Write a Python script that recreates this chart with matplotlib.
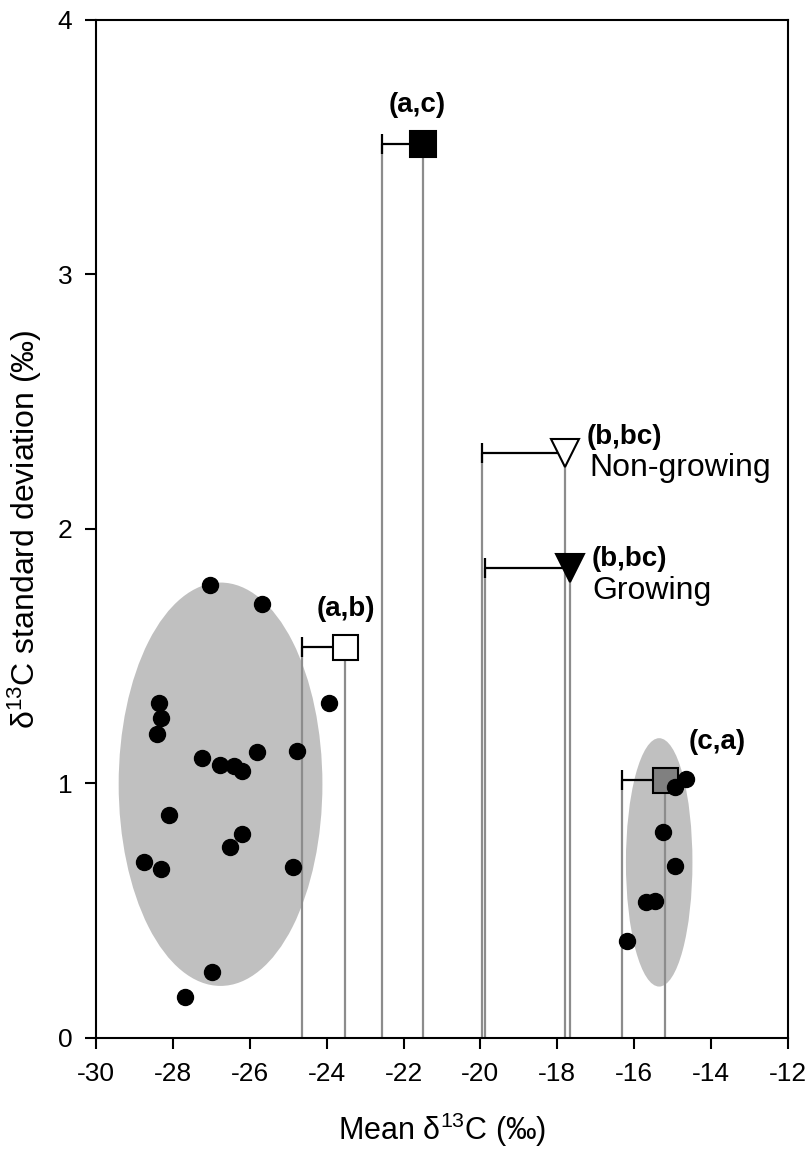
import matplotlib
matplotlib.use('Agg')
import matplotlib.pyplot as plt
from matplotlib.patches import Ellipse

plt.rcParams['font.family'] = ['Liberation Sans', 'DejaVu Sans']
plt.rcParams['mathtext.default'] = 'regular'
plt.rcParams['axes.unicode_minus'] = False

# ── data ────────────────────────────────────────────────────
# individual points, left (C3) cluster
c3_x = [-27.03, -25.69, -23.93, -28.36, -28.32, -28.42, -27.25, -26.77, -26.41,
        -26.21, -25.80, -24.78, -28.09, -26.19, -26.51, -28.75, -28.32, -24.87,
        -26.99, -27.68]
c3_y = [1.780, 1.705, 1.315, 1.317, 1.259, 1.193, 1.099, 1.073, 1.070,
        1.050, 1.125, 1.129, 0.876, 0.802, 0.749, 0.693, 0.665, 0.673,
        0.261, 0.162]

# individual points, right (C4) cluster
c4_x = [-14.65, -14.95, -15.26, -14.94, -15.69, -15.45, -16.19]
c4_y = [1.018, 0.988, 0.808, 0.677, 0.536, 0.538, 0.382]

# shaded ellipses round each cluster: centre x, centre y, width, height
ell_cx = [-26.76, -15.35]
ell_cy = [0.997, 0.690]
ell_w = [5.30, 1.73]
ell_h = [1.585, 0.976]

# group means: mean d13C, sd of d13C, left end of error bar
grp_x = [-23.52, -21.49, -17.79, -17.67, -15.21]
grp_y = [1.535, 3.512, 2.297, 1.846, 1.014]
grp_lo = [-24.63, -22.57, -19.97, -19.87, -16.32]
grp_marker = ['s', 's', 'v', 'v', 's']
grp_face = ['white', 'black', 'white', 'black', '#808080']
grp_size = [18, 19, 20, 20, 18]

xticks = [-30, -28, -26, -24, -22, -20, -18, -16, -14, -12]
yticks = [0, 1, 2, 3, 4]

fig = plt.figure(figsize=(8.1, 11.56), dpi=100)
ax = fig.add_axes([0.1185, 0.1021, 0.8543, 0.8806])

# shaded ellipses
for cx, cy, w, h in zip(ell_cx, ell_cy, ell_w, ell_h):
    ax.add_patch(Ellipse((cx, cy), w, h, facecolor='#c0c0c0', edgecolor='none', zorder=1))

# grey drop lines from mean and from error bar end
ax.vlines(grp_x, 0, grp_y, color='#8c8c8c', lw=1.6, zorder=2)
ax.vlines(grp_lo, 0, grp_y, color='#8c8c8c', lw=1.6, zorder=2)

# one-sided horizontal error bars
err_left = [m - lo for m, lo in zip(grp_x, grp_lo)]
err_right = [0] * len(grp_x)
ax.errorbar(grp_x, grp_y, xerr=[err_left, err_right], fmt='none', ecolor='black',
            elinewidth=1.6, capsize=7, capthick=1.6, zorder=3)

# group markers
for x, y, m, fc, ms in zip(grp_x, grp_y, grp_marker, grp_face, grp_size):
    ax.plot(x, y, marker=m, markersize=ms, markerfacecolor=fc,
            markeredgecolor='black', markeredgewidth=1.5, linestyle='none', zorder=4)

# individual points
ax.plot(c3_x, c3_y, 'o', color='black', markersize=11.5, zorder=5)
ax.plot(c4_x, c4_y, 'o', color='black', markersize=11.5, zorder=5)

# letters
ax.text(-21.65, 3.666, '(a,c)', ha='center', va='center', fontsize=20, fontweight='bold')
ax.text(-23.51, 1.686, '(a,b)', ha='center', va='center', fontsize=20, fontweight='bold')
ax.text(-17.25, 2.36, '(b,bc)', ha='left', va='center', fontsize=20, fontweight='bold')
ax.text(-17.16, 2.24, 'Non-growing', ha='left', va='center', fontsize=23)
ax.text(-17.12, 1.882, '(b,bc)', ha='left', va='center', fontsize=20, fontweight='bold')
ax.text(-17.08, 1.756, 'Growing', ha='left', va='center', fontsize=23)
ax.text(-13.84, 1.163, '(c,a)', ha='center', va='center', fontsize=20, fontweight='bold')

ax.set_xlim(-30, -12)
ax.set_ylim(0, 4)
ax.set_xticks(xticks)
ax.set_yticks(yticks)
ax.tick_params(axis='both', direction='out', length=8, width=1.5, labelsize=19)
ax.tick_params(axis='x', pad=9)
ax.tick_params(axis='y', pad=9)
for sp in ax.spines.values():
    sp.set_linewidth(1.5)

ax.set_xlabel('Mean δ$^{13}$C (‰)', fontsize=22, labelpad=18)
ax.set_ylabel('δ$^{13}$C standard deviation (‰)', fontsize=23, labelpad=10)

plt.savefig('out.png', dpi=100)
print("Saved: out.png")
plt.close()
